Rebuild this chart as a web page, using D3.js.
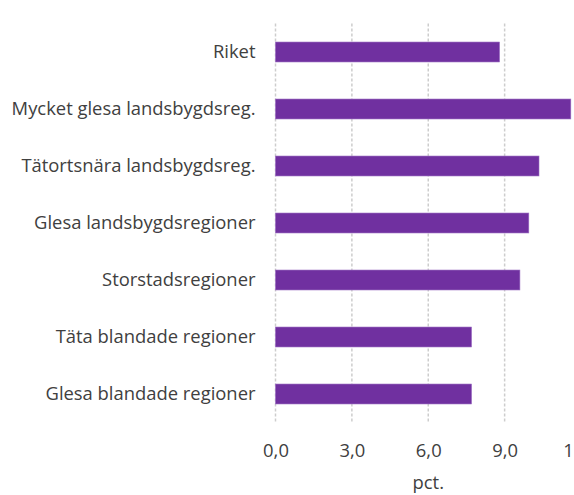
<!DOCTYPE html>
<html>
<head>
<meta charset="utf-8">
<script src="https://cdn.jsdelivr.net/npm/d3@7/dist/d3.min.js"></script>
<style>
  html, body { margin: 0; padding: 0; background: #fff; }
  svg { display: block; }
  text { font-family: "Open Sans", sans-serif; fill: #404040; }
</style>
</head>
<body>
<svg id="chart" width="574" height="495"></svg>
<script>
// Andel per regiontyp (pct.)
const categories = [
  "Riket",
  "Mycket glesa landsbygdsreg.",
  "Tätortsnära landsbygdsreg.",
  "Glesa landsbygdsregioner",
  "Storstadsregioner",
  "Täta blandade regioner",
  "Glesa blandade regioner"
];
const values = [8.8, 11.6, 10.35, 9.95, 9.6, 7.7, 7.7];
const tickValues = [0, 3, 6, 9, 12];
const axisTitle = "pct.";

const FONT = "'Open Sans', sans-serif";
const FS = 18.4;

const svg = d3.select("#chart");
const W = 574, H = 495;
const margin = { left: 275.5, right: -7, top: 23.5, bottom: 72.5 };

const x = d3.scaleLinear()
  .domain([0, 12])
  .range([margin.left, W - margin.right]);

const y = d3.scaleBand()
  .domain(categories)
  .range([margin.top, H - margin.bottom])
  .paddingInner(0.65)
  .paddingOuter(0.325);

// dashed vertical gridlines
svg.append("g")
  .selectAll("line")
  .data(tickValues)
  .join("line")
  .attr("x1", d => x(d)).attr("x2", d => x(d))
  .attr("y1", margin.top).attr("y2", H - margin.bottom)
  .attr("stroke", "#cdcdcd")
  .attr("stroke-width", 1.5)
  .attr("stroke-dasharray", "3,2");

// bars
svg.append("g")
  .selectAll("rect")
  .data(categories)
  .join("rect")
  .attr("x", x(0))
  .attr("y", d => y(d))
  .attr("width", (d, i) => x(values[i]) - x(0))
  .attr("height", y.bandwidth())
  .attr("fill", "#7030a0")
  .attr("stroke", "#9a6cc2")
  .attr("stroke-width", 0.6);

// category labels
const yAxis = d3.axisLeft(y).tickSize(0).tickPadding(20);
const gy = svg.append("g")
  .attr("transform", `translate(${x(0)},0)`)
  .call(yAxis);
gy.select(".domain").remove();
gy.selectAll("text")
  .attr("font-size", FS)
  .style("font-family", FONT)
  .attr("fill", "#404040");

// value axis
const fmt = d => d3.format(".1f")(d).replace(".", ",");
const xAxis = d3.axisBottom(x).tickValues(tickValues).tickFormat(fmt).tickSize(0).tickPadding(0);
const gx = svg.append("g")
  .attr("transform", `translate(0,${H - margin.bottom})`)
  .call(xAxis);
gx.select(".domain").remove();
gx.selectAll("text")
  .attr("dy", null)
  .attr("y", 34.5)
  .attr("font-size", FS)
  .style("font-family", FONT)
  .attr("fill", "#404040");

// axis title
svg.append("text")
  .attr("x", (x(0) + x(12)) / 2)
  .attr("y", 489)
  .attr("text-anchor", "middle")
  .attr("font-size", FS)
  .style("font-family", FONT)
  .text(axisTitle);
</script>
</body>
</html>
